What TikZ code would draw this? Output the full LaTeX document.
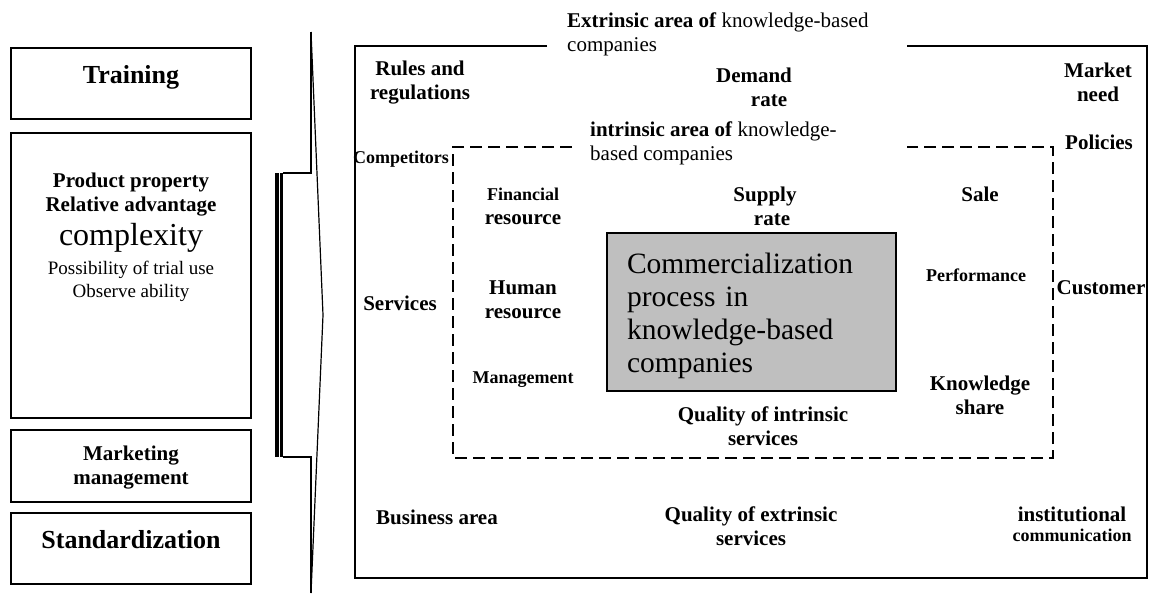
\documentclass[tikz,border=0pt]{standalone}
\usepackage{fontspec}
\setmainfont{Liberation Serif}
\usetikzlibrary{positioning}
\tikzset{ box/.style={draw, line width=1.6pt, minimum width=240pt, inner sep=0pt},
          lab/.style={font=\bfseries\fontsize{21}{24}\selectfont, align=center, inner sep=0pt},
          labsmall/.style={font=\bfseries\fontsize{18}{21}\selectfont, align=center, inner sep=0pt},
          labbig/.style={font=\bfseries\fontsize{26}{29}\selectfont, inner sep=0pt},
          area/.style={font=\fontsize{21}{24}\selectfont, align=left, inner sep=0pt, anchor=west},
          frame/.style={line width=1.6pt},
          dashbox/.style={line width=1.3pt, dash pattern=on 12pt off 6pt}}
\begin{document}
\begin{tikzpicture}[x=1pt, y=-1pt]
\useasboundingbox (0,0) rectangle (1153,595);

% left column
\node (training) [box, minimum height=71pt, anchor=north] at (131,47) {};
\node (prop) [box, minimum height=285pt, anchor=north] at (131,132) {};
\node (mkt) [box, minimum height=72pt, anchor=north] at (131,429) {};
\node (std) [box, minimum height=71pt, anchor=north] at (131,512) {};

\node (training-txt) [labbig, below=18pt of training.north] {Training};
\node (prop-txt) [below=41pt of prop.north, align=center, inner sep=0pt,
  font=\fontsize{19}{24}\selectfont]
  {{\bfseries\fontsize{21}{24}\selectfont Product property}\\
   {\bfseries\fontsize{21}{24}\selectfont Relative advantage}\\[5.5pt]
   {\fontsize{32}{33}\selectfont complexity}\\[5pt]
   Possibility of trial use\\[-1pt]
   Observe ability};
\node (mkt-txt) [lab, below=17pt of mkt.north] {Marketing\\management};
\node (std-txt) [labbig, below=18pt of std.north] {Standardization};

% bracket
\coordinate (brk-top) at (311,32);
\coordinate (brk-tip) at (323,315);
\coordinate (brk-bot) at (311,593);
\coordinate (bar-top) at (283,173);
\coordinate (bar-bot) at (283,457);
\draw[line width=1.2pt] (brk-top) -- (brk-tip) -- (brk-bot);
\draw[line width=1.4pt] (bar-top) -| (brk-top);
\draw[line width=1.4pt] (bar-bot) -| (brk-bot);
\draw[line width=4.5pt] ([xshift=-6.25pt]bar-top) -- ([xshift=-6.25pt]bar-bot);
\draw[line width=3pt] ([xshift=-1.5pt]bar-top) -- ([xshift=-1.5pt]bar-bot);

% extrinsic and intrinsic areas
\draw[frame] (547,46) -| (355,578) -| (1147,46) -- (907,46);
\draw[dashbox] (572,147) -| (453,458) -| (1053,147) -- (907,147);
\node (ext-title) [area] at (567,34) {\textbf{Extrinsic area of} knowledge-based\\companies};
\node (int-title) [area] at (590,143) {\textbf{intrinsic area of} knowledge-\\based companies};

\node (core) [draw, line width=1.6pt, fill=gray!50, minimum width=289pt, minimum height=158pt,
  text width=249pt, align=left, inner xsep=20pt, inner ysep=0pt,
  font=\fontsize{29.5}{33}\selectfont] at (751.5,312)
  {\rule{0pt}{28pt}Commercialization\\process in\\knowledge-based\\companies};

\foreach \nm/\x/\y/\txt in {rules/420/83/{Rules and\\regulations},
    demand/754/87/{Demand\\\hspace*{30pt}rate},
    market/1098/82/{Market\\need},
    policies/1099/142/{Policies},
    supply/765/206/{Supply\\\hspace*{14pt}rate},
    sale/980/194/{Sale},
    services/400/303/{Services},
    human/523/300/{Human\\resource},
    customer/1101/288/{Customer},
    knowshare/980/395/{Knowledge\\share},
    qualint/763/426/{Quality of intrinsic\\services},
    business/437/517/{Business area},
    qualext/751/526/{Quality of extrinsic\\services}} %bold labels
  \node (\nm) [lab] at (\x,\y) {\txt};
\foreach \nm/\x/\y/\txt in {competitors/401/159/{Competitors},
    management/523/380/{Management},
    performance/976/275/{Performance}} %smaller labels
  \node (\nm) [labsmall] at (\x,\y) {\txt};
\node (financial) [lab] at (523,206) {{\fontsize{18}{24}\selectfont Financial}\\resource};
\node (institutional) [lab] at (1072,524) {institutional\\[-4pt]{\fontsize{18}{24}\selectfont communication}};

\end{tikzpicture}
\end{document}
